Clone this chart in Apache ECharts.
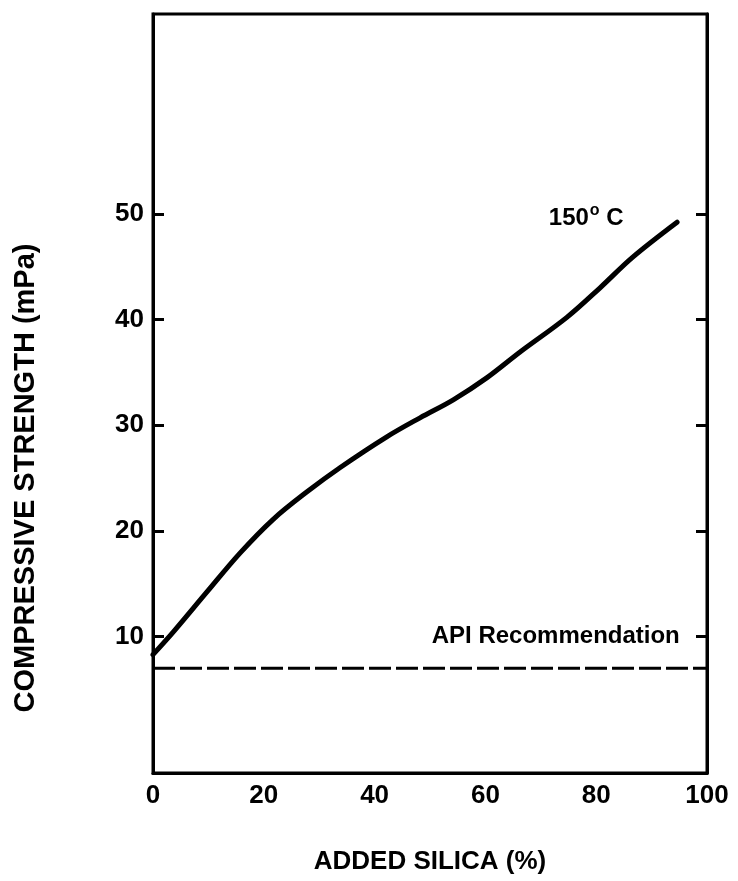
<!DOCTYPE html>
<html>
<head>
<meta charset="utf-8">
<script src="https://cdn.jsdelivr.net/npm/echarts@6/dist/echarts.min.js"></script>
<style>html,body{margin:0;padding:0;background:#fff}#c{width:738px;height:881px}</style>
</head>
<body>
<div id="c"></div>
<script>
// Data
const silicaPct = [0, 3.6, 9.7, 15.7, 21.7, 27.8, 33.8, 42.2, 48.2, 54.2, 60.3, 66.2, 74.7, 80.7, 86.6, 94.6];
const strength150C = [8.3, 10.4, 14.2, 17.9, 21.1, 23.7, 26.0, 28.9, 30.7, 32.4, 34.5, 36.9, 40.2, 43.0, 45.9, 49.2];
const apiX = [0, 100];
const apiY = [7, 7];
const yTicks = [10, 20, 30, 40, 50];
const xTickLabels = ['0', '20', '40', '60', '80', '100'];
const annoX = [78.2, 72.7];
const annoY = [49.6, 10.0];
const annoText = ['{n|150}{s|o}{n| C}', '{n|API Recommendation}'];

const FONT = 'Liberation Sans, Arial, sans-serif';
const chart = echarts.init(document.getElementById('c'));
chart.setOption({
  animation: false,
  backgroundColor: '#fff',
  grid: { left: 153, right: 31, top: 14, bottom: 108, show: true, borderColor: '#000', borderWidth: 3, backgroundColor: 'transparent' },
  xAxis: {
    type: 'value', min: 0, max: 100, interval: 20,
    axisLine: { show: true, onZero: false, lineStyle: { color: '#000', width: 3 } },
    axisTick: { show: false },
    splitLine: { show: false },
    axisLabel: { color: '#000', fontFamily: FONT, fontWeight: 'bold', fontSize: 26, margin: 10,
      formatter: v => xTickLabels[Math.round(v / 20)] },
    name: 'ADDED SILICA (%)', nameLocation: 'middle', nameGap: 76,
    nameTextStyle: { color: '#000', fontFamily: FONT, fontWeight: 'bold', fontSize: 26 }
  },
  yAxis: [{
    type: 'value', min: -2.9, max: 68.9, position: 'left',
    axisLine: { show: true, onZero: false, lineStyle: { color: '#000', width: 3 } },
    axisTick: { show: true, inside: true, length: 11, customValues: yTicks, lineStyle: { color: '#000', width: 3 } },
    axisLabel: { show: true, customValues: yTicks, color: '#000', fontFamily: FONT, fontWeight: 'bold', fontSize: 26, margin: 9 },
    splitLine: { show: false }
  }, {
    type: 'value', min: -2.9, max: 68.9, position: 'right',
    axisLine: { show: true, onZero: false, lineStyle: { color: '#000', width: 3 } },
    axisTick: { show: true, inside: true, length: 11, customValues: yTicks, lineStyle: { color: '#000', width: 3 } },
    axisLabel: { show: false },
    splitLine: { show: false }
  }],
  graphic: [{
    type: 'text', rotation: Math.PI / 2,
    x: 26, y: 478,
    style: { text: 'COMPRESSIVE STRENGTH (mPa)', fill: '#000', font: 'bold 29px ' + FONT, align: 'center', verticalAlign: 'middle' }
  }],
  series: [{
    type: 'line', smooth: 0.35, showSymbol: false,
    data: silicaPct.map((x, i) => [x, strength150C[i]]),
    lineStyle: { color: '#000', width: 5, cap: 'round' }
  }, {
    type: 'line', showSymbol: false,
    data: apiX.map((x, i) => [x, apiY[i]]),
    lineStyle: { color: '#000', width: 3, type: [22, 5] }
  }, {
    type: 'scatter', symbolSize: 0,
    itemStyle: { opacity: 1 },
    data: annoX.map((x, i) => ({ value: [x, annoY[i]], label: { formatter: annoText[i] } })),
    label: { show: true, position: 'inside', color: '#000', opacity: 1,
      rich: {
        n: { color: '#000', fontFamily: FONT, fontWeight: 'bold', fontSize: 24 },
        s: { color: '#000', fontFamily: FONT, fontWeight: 'bold', fontSize: 16, verticalAlign: 'top', padding: [0, 0, 14, 1] }
      } }
  }]
});
</script>
</body>
</html>
